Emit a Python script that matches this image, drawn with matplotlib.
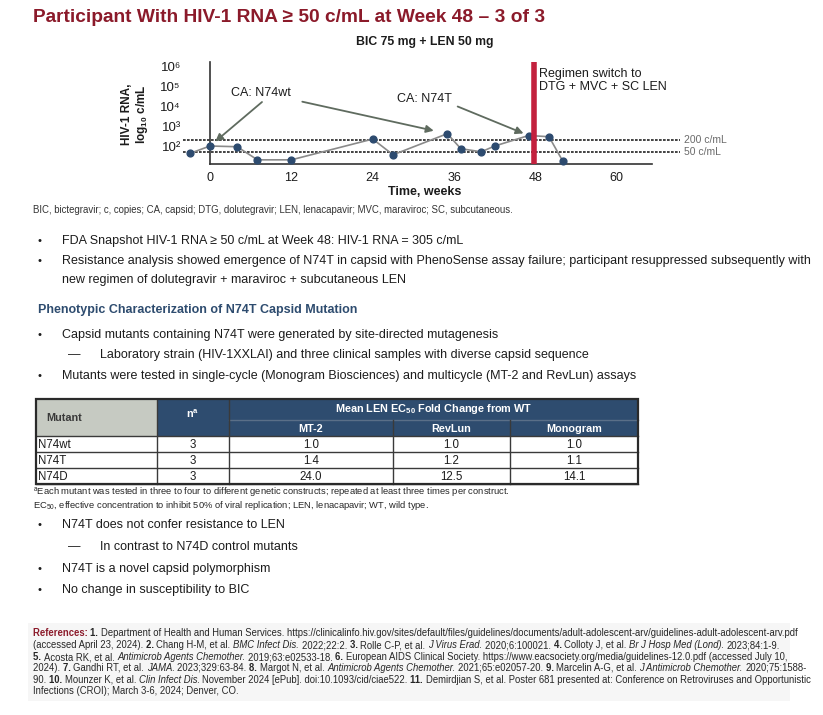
import matplotlib
matplotlib.use('Agg')
import matplotlib.pyplot as plt
from matplotlib.patches import Rectangle
from matplotlib.lines import Line2D
import matplotlib.ticker as mticker

plt.rcParams['font.family'] = ['Liberation Sans', 'DejaVu Sans']
plt.rcParams['mathtext.fontset'] = 'custom'
plt.rcParams['mathtext.rm'] = 'Liberation Sans'
plt.rcParams['mathtext.it'] = 'Liberation Sans:italic'
plt.rcParams['mathtext.bf'] = 'Liberation Sans:bold'
plt.rcParams['mathtext.default'] = 'regular'

# ---------------- data ----------------
weeks = [-3, 0, 4, 7, 12, 24, 27, 35, 37, 40, 42, 47, 50, 52]
rna = [42, 100, 92, 20, 20, 225, 36, 420, 73, 51, 100, 340, 295, 18]
x_ticks = [0, 12, 24, 36, 48, 60]
y_exponents = [2, 3, 4, 5, 6]
thresholds = [200, 50]
threshold_labels = ['200 c/mL', '50 c/mL']
switch_week = 47.8

table_mutants = ['N74wt', 'N74T', 'N74D']
table_n = ['3', '3', '3']
table_mt2 = ['1.0', '1.4', '24.0']
table_revlun = ['1.0', '1.2', '12.5']
table_monogram = ['1.0', '1.1', '14.1']
table_subheads = ['MT-2', 'RevLun', 'Monogram']

SUP = str.maketrans('0123456789', '\u2070\u00b9\u00b2\u00b3\u2074\u2075\u2076\u2077\u2078\u2079')

W, H = 823, 715
fig = plt.figure(figsize=(W / 100, H / 100), dpi=100)
renderer = fig.canvas.get_renderer()

DARKRED = '#8B1A2A'
BLUE = '#2E4C6F'
TXT = '#1c1c1c'


def T(x, y, s, **kw):
    kw.setdefault('va', 'center')
    kw.setdefault('color', TXT)
    return fig.text(x / W, 1 - y / H, s, **kw)


def frect(x0, y0, x1, y1, fc='none', ec='none', lw=0, z=1):
    fig.add_artist(Rectangle((x0 / W, 1 - y1 / H), (x1 - x0) / W, (y1 - y0) / H,
                             transform=fig.transFigure, facecolor=fc,
                             edgecolor=ec, linewidth=lw, zorder=z))


def fline(x0, y0, x1, y1, c='#3a3a3a', lw=1.0, z=3):
    fig.add_artist(Line2D([x0 / W, x1 / W], [1 - y0 / H, 1 - y1 / H],
                          transform=fig.transFigure, color=c, lw=lw, zorder=z))


def twidth(s, **kw):
    t = fig.text(0, 0, s, **kw)
    w = t.get_window_extent(renderer=renderer).width
    t.remove()
    return w


def rich(x, y, segs, size):
    sw = twidth('a a', fontsize=size) - twidth('aa', fontsize=size)
    cx = x
    for s, st in segs:
        kw = dict(fontsize=size)
        color = '#262626'
        if 'b' in st or 'r' in st:
            kw['fontweight'] = 'bold'
        if 'i' in st:
            kw['fontstyle'] = 'italic'
        if 'r' in st:
            color = DARKRED
        T(cx, y, s, color=color, **kw)
        core = s.rstrip(' ')
        nsp = len(s) - len(core)
        w = twidth(core, **kw) if core else 0
        cx += w + nsp * sw


# ---------------- title ----------------
T(33, 17, 'Participant With HIV-1 RNA \u2265 50 c/mL at Week 48 \u2013 3 of 3',
  fontsize=13.8, fontweight='bold', color=DARKRED)
T(425, 42, 'BIC 75 mg + LEN 50 mg', fontsize=8.8, fontweight='bold', ha='center')

# ---------------- chart ----------------
pxw = 6.78
x0px = 210
xl = (-5, 66)
left = x0px + xl[0] * pxw
right = x0px + xl[1] * pxw
ax = fig.add_axes([left / W, (H - 164) / H, (right - left) / W, 102 / H])
ax.set_yscale('log')
ax.set_xlim(*xl)
ax.set_ylim(10 ** 1.09, 10 ** 6.25)
ax.patch.set_alpha(0)
for s in ['top', 'right']:
    ax.spines[s].set_visible(False)
ax.spines['left'].set_position(('data', 0))
ax.spines['bottom'].set_bounds(0, 65.2)
for s in ['left', 'bottom']:
    ax.spines[s].set_color('#333333')
    ax.spines[s].set_linewidth(1.2)
ax.set_xticks(x_ticks)
ax.set_xticklabels([str(v) for v in x_ticks])
ax.set_yticks([10.0 ** e for e in y_exponents])
ax.set_yticklabels(['10' + str(e).translate(SUP) for e in y_exponents])
ax.yaxis.set_minor_locator(mticker.NullLocator())
ax.tick_params(axis='x', length=0, pad=5.5, labelsize=9, labelcolor=TXT)
ax.tick_params(axis='y', length=0, pad=21, labelsize=9.5, labelcolor=TXT)

ax.hlines(thresholds, -4, 69.3, colors='#222222', linestyles=(0, (1.6, 0.8)),
          lw=1.2, clip_on=False, zorder=1)
for v, lab in zip(thresholds, threshold_labels):
    ax.text(69.9, v, lab, va='center', ha='left', fontsize=7.5, color='#6b6b6b',
            clip_on=False)

ax.plot(weeks, rna, color='#8a8a8a', lw=1.2, zorder=2, clip_on=False)
ax.scatter(weeks, rna, s=24, color='#2D4B6F', zorder=3, clip_on=False)
ax.axvline(switch_week, color='#C3213E', lw=4, zorder=4)

arrow_c = '#5F6B5F'
ap = dict(arrowstyle='-|>', color=arrow_c, lw=1.3, shrinkA=0, mutation_scale=11)
ax.annotate('', xy=(weeks[1], rna[1]), xytext=(52, 44), textcoords='offset pixels',
            arrowprops=dict(ap, shrinkB=5))
ax.annotate('', xy=(weeks[7], rna[7]), xytext=(-145, 32), textcoords='offset pixels',
            arrowprops=dict(ap, shrinkB=10))
ax.annotate('', xy=(weeks[11], rna[11]), xytext=(-71, 29), textcoords='offset pixels',
            arrowprops=dict(ap, shrinkB=4))
ax.text(7.5, 10 ** 4.68, 'CA: N74wt', ha='center', va='center', fontsize=9, color=TXT)
ax.text(31.6, 10 ** 4.38, 'CA: N74T', ha='center', va='center', fontsize=9, color=TXT)
ax.text(48.5, 10 ** 5.31, 'Regimen switch to\nDTG + MVC + SC LEN', ha='left',
        va='center', fontsize=9, linespacing=1.2, color=TXT)

T(425, 192, 'Time, weeks', fontsize=9, fontweight='bold', ha='center')
T(127, 114, 'HIV-1 RNA,', fontsize=8.5, fontweight='bold', rotation=90, ha='center')
T(142, 114, 'log$_{10}$ c/mL', fontsize=8.5, fontweight='bold', rotation=90, ha='center')

T(33, 210, 'BIC, bictegravir; c, copies; CA, capsid; DTG, dolutegravir; LEN, lenacapavir; '
  'MVC, maraviroc; SC, subcutaneous.', fontsize=6.9, color='#333333')

# ---------------- bullets ----------------
BS = 9


def bullet(y, s, dash=False, **kw):
    if dash:
        T(68, y, '\u2014', fontsize=BS)
        T(100, y, s, fontsize=BS, **kw)
    else:
        T(38, y, '\u2022', fontsize=BS - 1)
        T(62, y, s, fontsize=BS, **kw)


bullet(241, 'FDA Snapshot HIV-1 RNA \u2265 50 c/mL at Week 48: HIV-1 RNA = 305 c/mL')
bullet(261, 'Resistance analysis showed emergence of N74T in capsid with PhenoSense assay '
       'failure; participant resuppressed subsequently with')
T(62, 280, 'new regimen of dolutegravir + maraviroc + subcutaneous LEN', fontsize=BS)
T(38, 310, 'Phenotypic Characterization of N74T Capsid Mutation', fontsize=9,
  fontweight='bold', color=BLUE)
bullet(335, 'Capsid mutants containing N74T were generated by site-directed mutagenesis')
bullet(355, 'Laboratory strain (HIV-1XXLAI) and three clinical samples with diverse capsid sequence',
       dash=True)
bullet(376, 'Mutants were tested in single-cycle (Monogram Biosciences) and multicycle '
       '(MT-2 and RevLun) assays')

# ---------------- table ----------------
cx = [36, 157, 229, 393, 510, 638]
ry = [399, 420, 436, 452, 468, 484]
GRAY = '#C6CAC2'
frect(cx[0], ry[0], cx[1], ry[2], fc=GRAY)
frect(cx[1], ry[0], cx[5], ry[2], fc=BLUE)
frect(cx[0], ry[2], cx[5], ry[5], fc='white')
LC = '#3a3a3a'
for y in ry[2:]:
    fline(cx[0], y, cx[5], y, c=LC)
fline(cx[2], ry[1], cx[5], ry[1], c='#5a6f88', lw=1.0)
for x in cx[1:3]:
    fline(x, ry[0], x, ry[5], c=LC)
for x in cx[3:5]:
    fline(x, ry[1], x, ry[5], c=LC)
frect(cx[0], ry[0], cx[5], ry[5], ec='#2a2a2a', lw=1.6, z=4)

TS = 7.8
DS = 8.3
T(46, (ry[0] + ry[2]) / 2, 'Mutant', fontsize=TS, fontweight='bold', color='#3a3a3a')
T((cx[1] + cx[2]) / 2, 414, 'n$^{\\mathbf{a}}$', fontsize=TS, fontweight='bold',
  color='white', ha='center')
T((cx[2] + cx[5]) / 2, (ry[0] + ry[1]) / 2, 'Mean LEN EC$_{\\mathbf{50}}$ Fold Change from WT',
  fontsize=TS, fontweight='bold', color='white', ha='center')
for i, lab in enumerate(table_subheads):
    T((cx[2 + i] + cx[3 + i]) / 2, (ry[1] + ry[2]) / 2 + 1, lab, fontsize=TS,
      fontweight='bold', color='white', ha='center')
cols = [table_n, table_mt2, table_revlun, table_monogram]
for r in range(3):
    yc = (ry[2 + r] + ry[3 + r]) / 2 + 0.5
    T(38, yc, table_mutants[r], fontsize=DS)
    for c, col in enumerate(cols):
        T((cx[1 + c] + cx[2 + c]) / 2, yc, col[r], fontsize=DS, ha='center')

T(33, 492, '$^{a}$Each mutant was tested in three to four to different genetic '
  'constructs; repeated at least three times per construct.', fontsize=6.75, color='#262626')
T(33, 506, 'EC$_{50}$, effective concentration to inhibit 50% of viral replication; '
  'LEN, lenacapavir; WT, wild type.', fontsize=6.75, color='#262626')

bullet(525, 'N74T does not confer resistance to LEN')
bullet(547, 'In contrast to N74D control mutants', dash=True)
bullet(569, 'N74T is a novel capsid polymorphism')
bullet(590, 'No change in susceptibility to BIC')

# ---------------- references ----------------
frect(28, 623, 790, 701, fc='#F6F6F6', z=0)
refs = [
    [("References: ", "r"), ("1. ", "b"),
     ("Department of Health and Human Services. https://clinicalinfo.hiv.gov/sites/default/"
      "files/guidelines/documents/adult-adolescent-arv/guidelines-adult-adolescent-arv.pdf", "n")],
    [("(accessed April 23, 2024). ", "n"), ("2. ", "b"), ("Chang H-M, et al. ", "n"),
     ("BMC Infect Dis. ", "i"), ("2022;22:2. ", "n"), ("3. ", "b"), ("Rolle C-P, et al. ", "n"),
     ("J Virus Erad. ", "i"), ("2020;6:100021. ", "n"), ("4. ", "b"), ("Colloty J, et al. ", "n"),
     ("Br J Hosp Med (Lond). ", "i"), ("2023;84:1-9.", "n")],
    [("5. ", "b"), ("Acosta RK, et al. ", "n"), ("Antimicrob Agents Chemother. ", "i"),
     ("2019;63:e02533-18. ", "n"), ("6. ", "b"),
     ("European AIDS Clinical Society. https://www.eacsociety.org/media/guidelines-12.0.pdf "
      "(accessed July 10,", "n")],
    [("2024). ", "n"), ("7. ", "b"), ("Gandhi RT, et al. ", "n"), ("JAMA. ", "i"),
     ("2023;329:63-84. ", "n"), ("8. ", "b"), ("Margot N, et al. ", "n"),
     ("Antimicrob Agents Chemother. ", "i"), ("2021;65:e02057-20. ", "n"), ("9. ", "b"),
     ("Marcelin A-G, et al. ", "n"), ("J Antimicrob Chemother. ", "i"), ("2020;75:1588-", "n")],
    [("90. ", "n"), ("10. ", "b"), ("Mounzer K, et al. ", "n"), ("Clin Infect Dis. ", "i"),
     ("November 2024 [ePub]. doi:10.1093/cid/ciae522. ", "n"), ("11. ", "b"),
     ("Demirdjian S, et al. Poster 681 presented at: Conference on Retroviruses and "
      "Opportunistic", "n")],
    [("Infections (CROI); March 3-6, 2024; Denver, CO.", "n")],
]
ref_y = [633, 645, 657, 668, 680, 691]
for y, segs in zip(ref_y, refs):
    rich(33, y, segs, 6.85)

fig.savefig('out.png', dpi=100)
